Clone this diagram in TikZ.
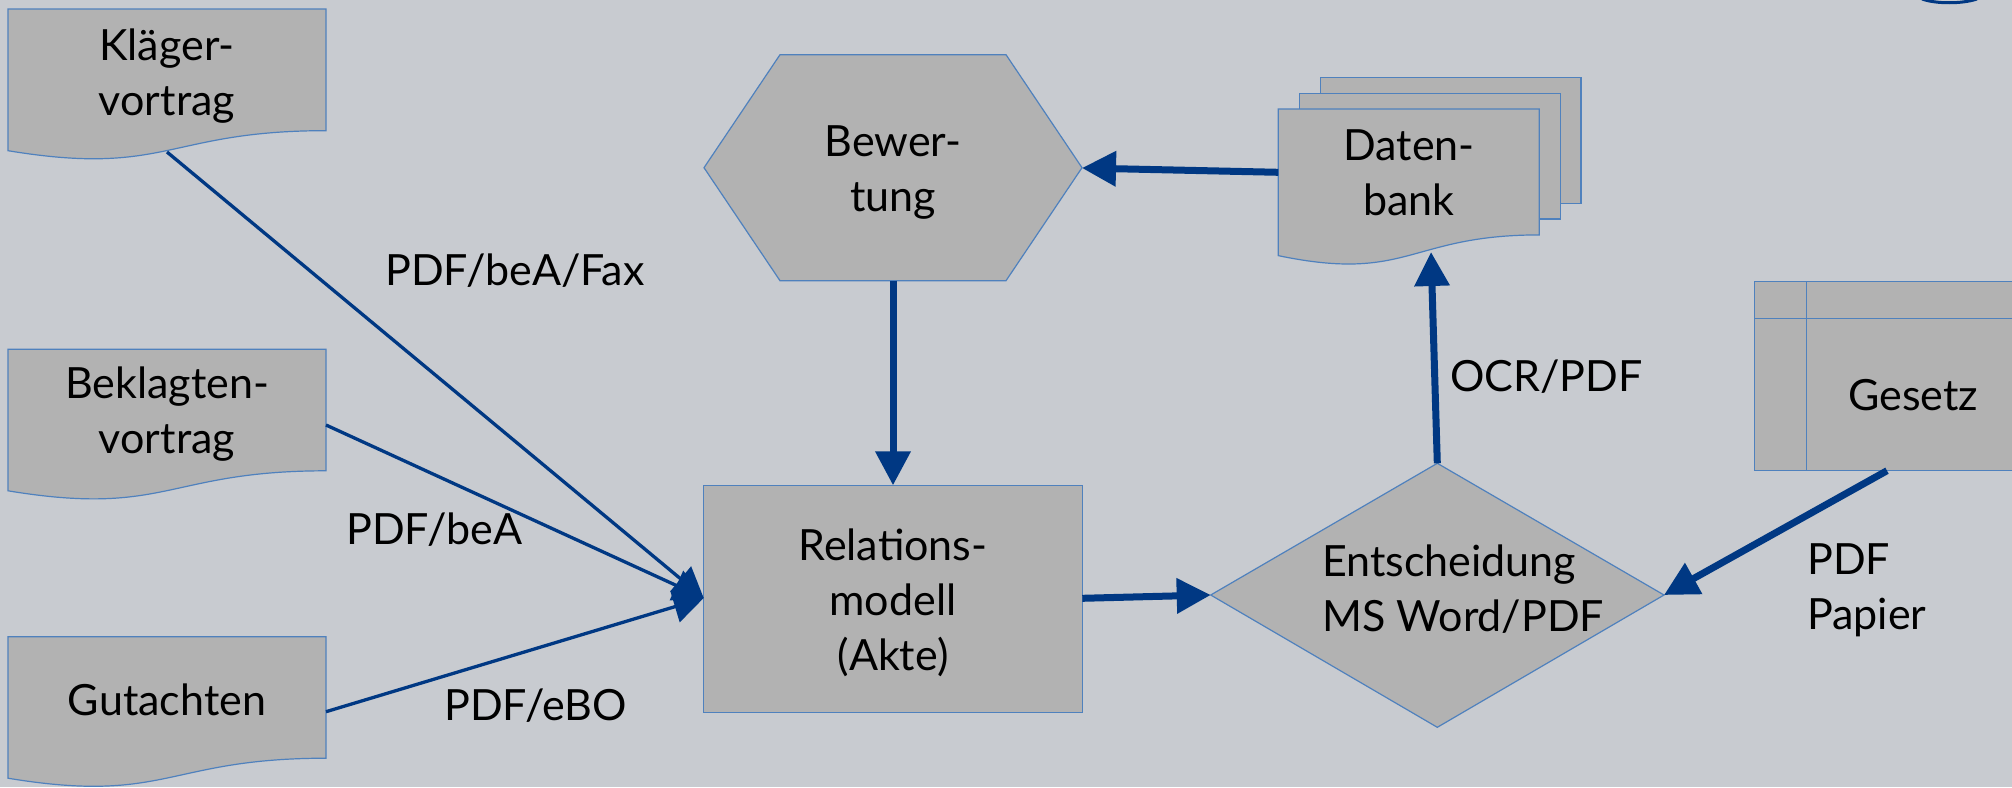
\documentclass[tikz,border=0pt]{standalone}
\usepackage{fontspec}
\setmainfont{Lato}
\usetikzlibrary{arrows.meta}
\definecolor{bg}{RGB}{200,203,208}
\definecolor{shapefill}{RGB}{178,178,178}
\definecolor{outline}{RGB}{79,129,189}
\definecolor{conn}{RGB}{0,56,131}
% centred / left-aligned line stacks whose baseline is the first line
\newcommand\stackc[1]{\vtop{\halign{\hfil##\hfil\cr#1\crcr}}}
\newcommand\stackl[1]{\vtop{\halign{##\hfil\cr#1\crcr}}}
% flowchart "document" outline: x, y (top left), width, height to the dip
\newcommand\docpath[4]{(#1,#2) -- ({#1+#3},#2) -- ({#1+#3},{#2+0.802*#4})
  .. controls ({#1+0.5*#3},{#2+0.802*#4}) and ({#1+0.5*#3},{#2+1.1075*#4}) .. (#1,{#2+0.934*#4}) -- cycle}
\begin{document}
\begin{tikzpicture}[x=1pt,y=-1pt,
  shapebox/.style={fill=shapefill,draw=outline,line width=1.2pt},
  txt/.style={font=\fontsize{43}{55}\selectfont, inner sep=0pt},
  thinarrow/.style={draw=conn,line width=3.3pt,-{Triangle[length=30pt,width=32pt]}},
  thickarrow/.style={draw=conn,line width=7pt,-{Triangle[length=34pt,width=34pt]}},
]
\useasboundingbox (0,0) rectangle (2012,787);
\clip (0,0) rectangle (2012,787);
\fill[bg] (0,0) rectangle (2012,787);

% partial logo ring at the upper right edge
\draw[conn, line width=3pt] (1922,-1) .. controls (1936,4) and (1962,4) .. (1977,-1);

% input documents
\draw[shapebox] \docpath{8}{9}{318}{151.7};
\draw[shapebox] \docpath{8}{349.3}{318}{151.5};
\draw[shapebox] \docpath{8}{636.7}{318}{151.5};
\node[txt, anchor=base] (klaeger) at (167,60) {\stackc{Kläger-\cr vortrag}};
\node[txt, anchor=base] (beklagte) at (167,398.3) {\stackc{Beklagten-\cr vortrag}};
\node[txt, anchor=base] (gutachten) at (167,715) {Gutachten};

% evaluation hexagon
\draw[shapebox] (704,167.7) -- (780,54.7) -- (1006,54.7) -- (1082,167.7) -- (1006,280.7) -- (780,280.7) -- cycle;
\node[txt, anchor=base] (bewertung) at (893,156.7) {\stackc{Bewer-\cr tung}};

% database (stacked documents)
\draw[shapebox] (1320.7,77.3) rectangle (1581,203.3);
\draw[shapebox] (1299.3,93.3) rectangle (1560.3,219);
\draw[shapebox] \docpath{1278.3}{109}{261}{157};
\node[txt, anchor=base] (datenbank) at (1409,160.7) {\stackc{Daten-\cr bank}};

% case file
\draw[shapebox] (703.7,485.3) rectangle (1082.3,712.3);
\node[txt, anchor=base] (relation) at (893,560) {\stackc{Relations-\cr modell\cr (Akte)}};

% decision diamond
\draw[shapebox] (1437.3,463.3) -- (1664,595) -- (1437.3,727.3) -- (1210.7,595) -- cycle;
\node[txt, anchor=base west] (entscheidung) at (1322,576.7) {\stackl{Entscheidung\cr MS Word/PDF}};

% statute (internal storage)
\draw[shapebox] (1754.7,281.3) rectangle (2030,470.7);
\draw[outline, line width=1.2pt] (1806.7,281.3) -- (1806.7,470.7);
\draw[outline, line width=1.2pt] (1754.7,318.3) -- (2030,318.3);
\node[txt, anchor=base] (gesetz) at (1913,410) {Gesetz};

% connector end points
\coordinate (kl-out) at (167,152);
\coordinate (bk-out) at (326,425);
\coordinate (gu-out) at (326,711.7);
\coordinate (rel-in) at (703.7,598);
\coordinate (rel-top) at (893,485.3);
\coordinate (rel-out) at (1082.3,598.3);
\coordinate (bew-bot) at (893,280.7);
\coordinate (bew-right) at (1082,168);
\coordinate (db-left) at (1278.3,172.3);
\coordinate (db-bot) at (1431,252);
\coordinate (ent-top) at (1437.3,463.3);
\coordinate (ent-left) at (1210.7,595);
\coordinate (ent-right) at (1664,595);
\coordinate (ges-out) at (1887,470.7);

% connectors
\draw[thinarrow] (kl-out) -- (rel-in);
\draw[thinarrow] (bk-out) -- (rel-in);
\draw[thinarrow] (gu-out) -- (rel-in);
\draw[thickarrow] (bew-bot) -- (rel-top);
\draw[thickarrow] (rel-out) -- (ent-left);
\draw[thickarrow] (ent-top) -- (db-bot);
\draw[thickarrow] (db-left) -- (bew-right);
\draw[thickarrow] (ges-out) -- (ent-right);

% connector labels
\node[txt, anchor=base west] (l-fax) at (385,285) {PDF/beA/Fax};
\node[txt, anchor=base west] (l-bea) at (346,544) {PDF/beA};
\node[txt, anchor=base west] (l-ebo) at (444,720) {PDF/eBO};
\node[txt, anchor=base west] (l-ocr) at (1450,391) {OCR/PDF};
\node[txt, anchor=base west] (l-pap) at (1807,574) {\stackl{PDF\cr Papier}};
\end{tikzpicture}
\end{document}
